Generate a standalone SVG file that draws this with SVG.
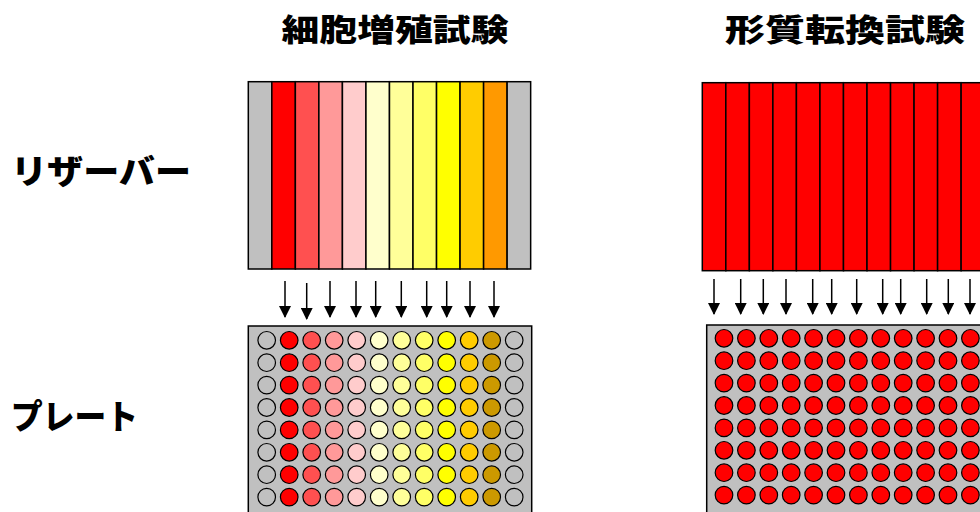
<svg xmlns="http://www.w3.org/2000/svg" width="980" height="512" viewBox="0 0 980 512">
<style>
.t{font-family:"Noto Sans CJK JP","Noto Sans CJK SC",sans-serif;font-weight:900;fill:#000}
.col{stroke:#000;stroke-width:1.5}
.plate{fill:#C0C0C0;stroke:#000;stroke-width:1.5}
.w{stroke:#000;stroke-width:1.2}
.g{fill:#C0C0C0}.r{fill:#FF0000}.c2{fill:#FF5050}.c3{fill:#FF9999}.c4{fill:#FFCCCC}.c5{fill:#FFFFCC}.c6{fill:#FFFF99}.c7{fill:#FFFF66}.c8{fill:#FFFF00}.c9{fill:#FFCC00}.c10{fill:#FF9900}.c11{fill:#CC9900}
.arr{stroke:#000;stroke-width:1.5;fill:none}
</style>
<defs>
<marker id="ah" markerUnits="userSpaceOnUse" markerWidth="12" markerHeight="12" refX="11" refY="6" orient="auto" viewBox="0 0 12 12">
<path d="M0,0 L12,6 L0,12 z" fill="#000"/>
</marker>
<circle id="wg" class="w g" r="8.8"/>
<circle id="w1" class="w r" r="8.8"/>
<circle id="w2" class="w c2" r="8.8"/>
<circle id="w3" class="w c3" r="8.8"/>
<circle id="w4" class="w c4" r="8.8"/>
<circle id="w5" class="w c5" r="8.8"/>
<circle id="w6" class="w c6" r="8.8"/>
<circle id="w7" class="w c7" r="8.8"/>
<circle id="w8" class="w c8" r="8.8"/>
<circle id="w9" class="w c9" r="8.8"/>
<circle id="w11" class="w c11" r="8.8"/>
<g id="leftRow">
<use href="#wg" x="266.7"/><use href="#w1" x="289.2"/><use href="#w2" x="311.7"/><use href="#w3" x="334.2"/><use href="#w4" x="356.7"/><use href="#w5" x="379.2"/><use href="#w6" x="401.7"/><use href="#w7" x="424.2"/><use href="#w8" x="446.7"/><use href="#w9" x="469.2"/><use href="#w11" x="491.7"/><use href="#wg" x="514.2"/>
</g>
<g id="rightRow">
<use href="#w1" x="724"/><use href="#w1" x="746.4"/><use href="#w1" x="768.8"/><use href="#w1" x="791.2"/><use href="#w1" x="813.6"/><use href="#w1" x="836"/><use href="#w1" x="858.4"/><use href="#w1" x="880.8"/><use href="#w1" x="903.2"/><use href="#w1" x="925.6"/><use href="#w1" x="948"/><use href="#w1" x="970.4"/>
</g>
</defs>
<rect width="980" height="512" fill="#fff"/>

<g id="title-left"><text class="t" x="281.5" y="40.5" font-size="31" textLength="227" lengthAdjust="spacingAndGlyphs">細胞増殖試験</text></g>
<g id="title-right"><text class="t" x="725" y="40.5" font-size="31" textLength="240" lengthAdjust="spacingAndGlyphs">形質転換試験</text></g>
<g id="label-reservoir"><text class="t" x="11" y="184" font-size="34" textLength="180" lengthAdjust="spacingAndGlyphs">リザーバー</text></g>
<g id="label-plate"><text class="t" x="11" y="429" font-size="34" textLength="127" lengthAdjust="spacingAndGlyphs">プレート</text></g>

<g id="reservoir-left">
<rect class="col g" x="248.3" y="81.7" width="23.53" height="187.3"/>
<rect class="col r" x="271.83" y="81.7" width="23.53" height="187.3"/>
<rect class="col c2" x="295.36" y="81.7" width="23.53" height="187.3"/>
<rect class="col c3" x="318.89" y="81.7" width="23.53" height="187.3"/>
<rect class="col c4" x="342.42" y="81.7" width="23.53" height="187.3"/>
<rect class="col c5" x="365.95" y="81.7" width="23.53" height="187.3"/>
<rect class="col c6" x="389.48" y="81.7" width="23.53" height="187.3"/>
<rect class="col c7" x="413.01" y="81.7" width="23.53" height="187.3"/>
<rect class="col c8" x="436.54" y="81.7" width="23.53" height="187.3"/>
<rect class="col c9" x="460.07" y="81.7" width="23.53" height="187.3"/>
<rect class="col c10" x="483.6" y="81.7" width="23.53" height="187.3"/>
<rect class="col g" x="507.13" y="81.7" width="23.53" height="187.3"/>
</g>

<g id="reservoir-right">
<rect class="col r" x="702.3" y="82.7" width="23.53" height="188"/>
<rect class="col r" x="725.83" y="82.7" width="23.53" height="188"/>
<rect class="col r" x="749.36" y="82.7" width="23.53" height="188"/>
<rect class="col r" x="772.89" y="82.7" width="23.53" height="188"/>
<rect class="col r" x="796.42" y="82.7" width="23.53" height="188"/>
<rect class="col r" x="819.95" y="82.7" width="23.53" height="188"/>
<rect class="col r" x="843.48" y="82.7" width="23.53" height="188"/>
<rect class="col r" x="867.01" y="82.7" width="23.53" height="188"/>
<rect class="col r" x="890.54" y="82.7" width="23.53" height="188"/>
<rect class="col r" x="914.07" y="82.7" width="23.53" height="188"/>
<rect class="col r" x="937.6" y="82.7" width="23.53" height="188"/>
<rect class="col r" x="961.13" y="82.7" width="23.53" height="188"/>
</g>

<g id="connectors">
<line class="arr" x1="285" y1="281" x2="285" y2="317" marker-end="url(#ah)"/>
<line class="arr" x1="306.7" y1="283" x2="306.7" y2="319" marker-end="url(#ah)"/>
<line class="arr" x1="330" y1="281" x2="330" y2="317" marker-end="url(#ah)"/>
<line class="arr" x1="356" y1="281" x2="356" y2="317" marker-end="url(#ah)"/>
<line class="arr" x1="375.7" y1="281" x2="375.7" y2="317" marker-end="url(#ah)"/>
<line class="arr" x1="401.3" y1="281" x2="401.3" y2="317" marker-end="url(#ah)"/>
<line class="arr" x1="426.7" y1="281" x2="426.7" y2="317" marker-end="url(#ah)"/>
<line class="arr" x1="446.7" y1="281" x2="446.7" y2="317" marker-end="url(#ah)"/>
<line class="arr" x1="470" y1="281" x2="470" y2="317" marker-end="url(#ah)"/>
<line class="arr" x1="494" y1="281" x2="494" y2="317" marker-end="url(#ah)"/>
<line class="arr" x1="714" y1="279" x2="714" y2="314" marker-end="url(#ah)"/>
<line class="arr" x1="740.7" y1="279" x2="740.7" y2="314" marker-end="url(#ah)"/>
<line class="arr" x1="763.3" y1="279" x2="763.3" y2="314" marker-end="url(#ah)"/>
<line class="arr" x1="786" y1="279" x2="786" y2="314" marker-end="url(#ah)"/>
<line class="arr" x1="812.7" y1="279" x2="812.7" y2="314" marker-end="url(#ah)"/>
<line class="arr" x1="831.7" y1="279" x2="831.7" y2="314" marker-end="url(#ah)"/>
<line class="arr" x1="856.7" y1="279" x2="856.7" y2="314" marker-end="url(#ah)"/>
<line class="arr" x1="882.7" y1="279" x2="882.7" y2="314" marker-end="url(#ah)"/>
<line class="arr" x1="900.7" y1="279" x2="900.7" y2="314" marker-end="url(#ah)"/>
<line class="arr" x1="926.7" y1="279" x2="926.7" y2="314" marker-end="url(#ah)"/>
<line class="arr" x1="948.3" y1="279" x2="948.3" y2="314" marker-end="url(#ah)"/>
<line class="arr" x1="970" y1="279" x2="970" y2="314" marker-end="url(#ah)"/>
</g>

<g id="plate-left">
<rect class="plate" x="248.3" y="326" width="283.4" height="200"/>
<use href="#leftRow" y="340.3"/>
<use href="#leftRow" y="362.7"/>
<use href="#leftRow" y="385.1"/>
<use href="#leftRow" y="407.5"/>
<use href="#leftRow" y="429.9"/>
<use href="#leftRow" y="452.3"/>
<use href="#leftRow" y="474.7"/>
<use href="#leftRow" y="497.1"/>
</g>

<g id="plate-right">
<rect class="plate" x="706.7" y="325" width="290" height="200"/>
<use href="#rightRow" y="338.3"/>
<use href="#rightRow" y="360.7"/>
<use href="#rightRow" y="383.1"/>
<use href="#rightRow" y="405.5"/>
<use href="#rightRow" y="427.9"/>
<use href="#rightRow" y="450.3"/>
<use href="#rightRow" y="472.7"/>
<use href="#rightRow" y="495.1"/>
</g>
</svg>
